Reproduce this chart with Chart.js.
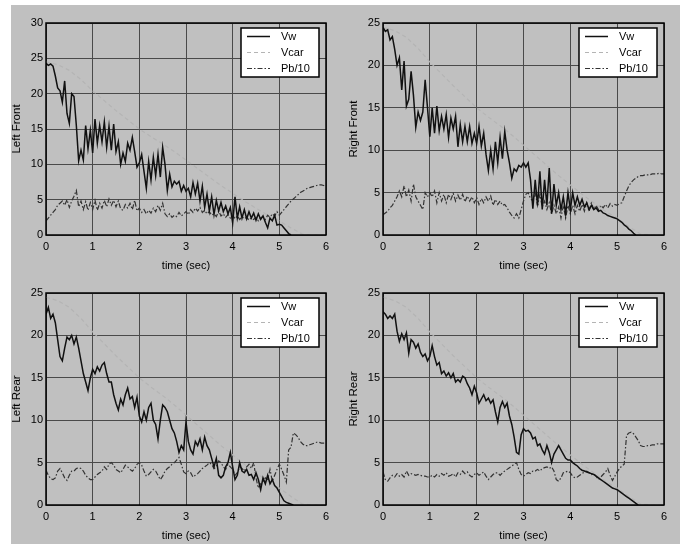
<!DOCTYPE html>
<html>
<head>
<meta charset="utf-8">
<script src="https://cdn.jsdelivr.net/npm/chart.js@4.4.0/dist/chart.umd.min.js"></script>
<style>
  body { margin: 0; background: #fff; overflow: hidden; width: 686px; height: 544px; position: relative; }
  #backdrop { position: absolute; left: 11px; top: 5px; width: 669px; height: 539px; background: #c0c0c0; }
  .panel { position: absolute; }
</style>
</head>
<body>
<div id="backdrop"></div>
<canvas class="panel" id="leftFront" width="343" height="275" style="left:0;top:0"></canvas>
<canvas class="panel" id="rightFront" width="343" height="275" style="left:343px;top:0"></canvas>
<canvas class="panel" id="leftRear" width="343" height="273" style="left:0;top:272px"></canvas>
<canvas class="panel" id="rightRear" width="343" height="273" style="left:343px;top:272px"></canvas>

<script>
// --- SAMPLE TIMES (sec) ---
const T = [0,0.05,0.1,0.15,0.2,0.25,0.3,0.35,0.4,0.45,0.5,0.55,0.6,0.65,0.7,0.75,0.8,0.85,0.9,0.95,
  1,1.05,1.1,1.15,1.2,1.25,1.3,1.35,1.4,1.45,1.5,1.55,1.6,1.65,1.7,1.75,1.8,1.85,1.9,1.95,
  2,2.05,2.1,2.15,2.2,2.25,2.3,2.35,2.4,2.45,2.5,2.55,2.6,2.65,2.7,2.75,2.8,2.85,2.9,2.95,
  3,3.05,3.1,3.15,3.2,3.25,3.3,3.35,3.4,3.45,3.5,3.55,3.6,3.65,3.7,3.75,3.8,3.85,3.9,3.95,
  4,4.05,4.1,4.15,4.2,4.25,4.3,4.35,4.4,4.45,4.5,4.55,4.6,4.65,4.7,4.75,4.8,4.85,4.9,4.95,
  5,5.05,5.1,5.15,5.2,5.25,5.3,5.35,5.4,5.45,5.5,5.55,5.6,5.65,5.7,5.75,5.8,5.85,5.9,5.95,6];
const T_CAR = [0,0.25,0.5,0.75,1,1.25,1.5,1.75,2,2.25,2.5,2.75,3,3.25,3.5,3.75,4,4.25,4.5,4.75,5,5.25,5.5,5.75,6];

const xTicks = [0, 1, 2, 3, 4, 5, 6];
const seriesNames = ["Vw", "Vcar", "Pb/10"];

// --- VEHICLE SPEED (same for every wheel) ---
const vCar = [24.5,24.1,23.3,22.0,20.4,19.0,17.6,16.3,15.0,13.9,12.9,11.8,10.6,9.4,8.2,7.0,5.9,4.8,3.8,2.8,2.0,1.0,0.1,0,0];

// --- LEFT FRONT ---
const vwLeftFront = [24.3,24.0,24.2,23.9,22.5,20.8,20.4,18.8,21.8,17.2,
  15.8,20.0,19.6,15.5,10.5,12.0,10.6,15.5,12.2,14.8,
  11.6,16.4,13.0,15.5,13.2,16.0,12.4,15.4,12.0,15.7,
  11.8,13.2,10.0,11.6,10.4,13.0,12.0,13.8,11.8,9.6,
  10.2,11.4,9.0,6.6,10.4,7.8,11.0,8.4,11.4,8.2,
  12.4,10.0,6.3,8.6,6.8,7.6,7.2,7.6,6.2,7.0,
  6.2,6.6,5.4,7.4,5.8,7.3,4.8,6.9,3.9,5.8,
  3.4,5.4,2.9,4.9,3.4,4.6,3.3,4.1,3.0,3.9,
  1.7,5.4,2.4,4.0,2.4,3.6,2.3,3.3,2.4,3.1,
  2.1,3.0,2.2,2.7,1.8,1.0,2.4,2.0,2.8,1.4,
  1.5,1.4,1.0,0.6,0.2,0];
const pbLeftFront = [2.0,2.4,2.8,3.2,3.6,4.2,4.5,4.8,4.2,5.0,
  3.9,4.8,5.5,6.3,4.0,4.8,3.6,4.7,3.5,4.6,
  3.6,4.9,3.5,4.5,3.8,4.9,4.0,5.1,4.2,4.9,
  4.0,4.8,3.7,3.5,4.3,3.8,4.5,3.6,4.9,3.4,
  3.8,3.2,3.6,3.0,3.5,3.1,3.8,3.3,4.2,3.5,
  4.5,3.0,2.6,3.0,2.5,2.8,2.6,3.2,2.7,3.0,
  3.3,2.9,3.6,3.2,3.8,3.4,3.9,3.2,3.5,3.0,
  3.3,2.8,3.0,2.6,3.4,2.7,3.0,2.5,2.9,2.4,
  2.8,2.3,2.7,2.2,2.6,2.3,2.5,2.1,2.4,2.2,
  2.5,2.0,2.4,2.6,2.2,2.8,2.5,3.0,2.7,3.3,
  2.8,3.2,3.6,4.0,4.4,4.8,5.1,5.4,5.7,6.0,
  6.2,6.4,6.6,6.7,6.8,6.9,7.0,7.1,7.1,7.0,
  6.9];

// --- RIGHT FRONT ---
const vwRightFront = [24.5,24.0,24.2,23.0,23.4,21.9,20.0,20.9,17.1,20.5,
  15.2,16.0,19.3,16.5,12.7,14.5,13.5,14.5,18.3,15.0,
  11.6,15.0,12.0,15.2,12.3,14.0,12.5,14.2,11.5,13.8,
  12.5,14.0,10.4,13.0,11.0,12.8,11.0,12.8,10.8,12.0,
  10.8,12.8,10.5,12.0,9.5,7.6,10.0,7.8,11.0,8.5,
  11.5,9.0,12.2,10.0,8.5,6.7,7.8,7.5,8.2,8.0,
  8.5,8.0,8.5,6.5,3.1,6.5,3.5,7.5,3.0,6.5,
  3.5,7.9,2.5,6.0,3.5,5.0,3.0,4.5,2.5,5.0,
  3.0,5.0,3.5,4.5,3.5,4.2,3.3,3.8,3.0,3.5,
  3.0,3.2,2.8,2.9,2.6,2.5,2.3,2.2,2.1,2.0,
  1.9,1.7,1.5,1.2,1.0,0.7,0.5,0.2,0];
const pbRightFront = [2.4,2.6,2.8,3.2,3.5,4.0,4.5,5.2,4.5,5.8,
  4.5,5.3,4.0,6.0,4.5,4.0,3.5,3.0,5.0,4.5,
  5.0,4.5,5.2,3.8,5.0,4.0,4.8,3.8,4.8,4.2,
  4.9,4.0,4.7,4.1,4.8,3.9,4.6,4.0,4.5,3.8,
  4.4,3.6,4.3,3.8,4.5,4.0,4.6,3.5,4.2,3.6,
  4.0,3.5,3.6,3.2,2.7,2.3,2.0,2.5,2.0,3.0,
  4.0,4.8,5.0,4.3,4.0,5.0,3.5,4.8,3.3,4.0,
  3.0,3.8,2.5,3.5,2.5,3.3,2.0,3.5,2.0,3.5,
  2.5,3.5,2.5,3.5,2.8,3.6,2.8,3.8,2.8,3.8,
  3.0,3.5,3.0,3.5,3.2,3.6,3.2,3.7,3.4,3.6,
  3.5,3.7,3.8,4.5,5.2,5.8,6.2,6.5,6.7,6.9,
  7.0,7.0,7.1,7.1,7.1,7.2,7.2,7.2,7.3,7.2,
  7.2];

// --- LEFT REAR ---
const vwLeftRear = [22.5,23.3,22.0,22.5,21.5,19.5,17.5,17.0,18.5,19.8,
  19.5,20.0,19.0,19.8,18.5,17.0,15.5,14.5,13.5,15.0,
  16.0,15.5,16.3,15.8,16.5,16.8,15.5,14.5,14.5,13.0,
  12.0,11.2,12.5,11.8,13.0,13.8,12.5,12.8,11.5,12.7,
  10.5,9.8,11.0,10.0,11.5,12.0,10.0,9.5,7.8,10.0,
  11.8,11.5,11.0,10.0,9.0,8.5,7.5,6.2,7.0,6.5,
  9.8,7.5,6.5,6.0,7.5,7.0,7.8,6.5,8.0,7.0,
  6.5,5.5,4.5,5.5,3.5,3.2,3.5,4.5,5.0,6.2,
  4.5,3.0,3.5,5.0,4.0,3.8,4.2,3.5,3.6,3.0,
  3.8,3.0,1.8,3.2,2.5,3.5,2.5,3.0,2.3,2.0,
  1.5,1.0,0.5,0.3,0.2,0.1,0];
const pbLeftRear = [4.1,3.5,3.1,3.0,3.2,4.0,4.3,3.8,3.2,2.9,
  3.5,4.0,4.0,4.3,4.4,4.3,4.0,3.5,3.2,3.0,
  3.0,3.3,3.6,3.8,4.0,4.5,4.2,4.8,5.0,4.7,
  4.2,4.0,3.8,4.2,4.7,4.5,4.2,4.0,4.3,4.8,
  5.0,4.7,4.0,3.4,3.6,3.9,4.2,4.0,3.5,3.0,
  3.4,4.0,4.3,4.5,4.8,5.0,5.3,5.6,4.8,3.9,
  3.7,4.0,3.8,3.3,3.5,3.7,4.0,4.3,4.5,4.7,
  5.0,4.8,4.3,4.5,5.2,5.0,4.5,4.2,4.8,4.5,
  4.2,3.5,3.8,4.5,4.3,4.0,4.5,4.8,4.3,5.0,
  3.2,2.0,2.5,2.8,3.2,3.0,4.2,2.8,3.5,4.2,
  4.8,4.2,3.5,2.7,6.5,6.8,8.5,8.3,8.0,7.5,
  7.2,7.0,7.0,7.1,7.2,7.3,7.4,7.4,7.3,7.3,
  7.3];

// --- RIGHT REAR ---
const vwRightRear = [22.8,22.5,22.0,22.3,22.0,22.5,20.5,19.3,20.2,19.5,
  20.3,17.9,19.5,19.2,18.5,19.0,18.0,17.5,17.8,17.0,
  17.5,18.8,17.5,16.5,16.8,15.5,15.8,15.2,15.6,15.0,
  15.5,14.5,14.8,14.5,15.2,15.0,14.3,13.8,13.0,14.0,
  13.2,12.0,12.5,13.0,12.3,12.6,12.0,12.4,11.0,9.8,
  11.5,12.2,11.5,12.0,10.5,9.5,8.0,6.2,6.0,8.3,
  9.0,8.7,8.8,8.5,7.8,8.0,7.0,7.2,6.5,6.0,
  7.0,6.2,5.0,6.0,6.5,7.0,6.5,6.0,5.5,5.3,
  5.3,5.0,4.8,4.6,4.3,4.1,4.0,3.9,3.8,3.7,
  3.6,3.4,3.2,3.0,2.8,2.6,2.4,2.2,2.0,1.9,
  1.8,1.6,1.4,1.2,1.0,0.8,0.6,0.4,0.2,0];
const pbRightRear = [3.9,3.0,2.8,3.2,3.5,3.3,3.7,3.4,3.6,3.3,
  4.0,3.5,3.7,3.6,3.5,3.6,3.5,3.4,3.4,3.3,
  3.3,3.5,3.3,3.6,3.4,3.7,3.5,3.8,3.4,3.5,
  3.7,3.3,3.8,3.6,4.0,3.7,3.9,3.5,3.3,3.6,
  3.8,3.5,3.7,3.9,3.4,3.0,3.3,3.6,3.8,3.8,
  3.5,3.8,4.0,4.2,4.4,4.6,4.8,5.0,4.2,3.6,
  3.4,3.6,3.8,3.7,4.0,4.0,4.2,4.0,4.3,4.4,
  4.5,4.3,4.5,4.0,3.0,2.8,3.2,3.8,3.9,4.0,
  3.8,3.4,3.2,3.3,3.5,3.7,3.9,4.0,3.8,3.6,
  3.7,3.4,3.0,3.3,3.6,3.9,4.3,3.5,2.9,3.4,
  3.9,4.3,4.6,4.8,8.2,8.5,8.6,8.4,8.0,7.6,
  7.0,6.9,6.9,7.0,7.0,7.1,7.1,7.2,7.2,7.2,
  7.2];

const FONT = "'Liberation Sans', Arial, Helvetica, sans-serif";

function toPoints(times, values) {
  return values.map((v, i) => ({ x: times[i], y: v }));
}

// MATLAB style legend box tucked into the upper right corner
const legendBoxPlugin = {
  id: "legendBox",
  afterDraw(chart) {
    const { ctx, chartArea } = chart;
    const w = 78, h = 49;
    const x = chartArea.right - 7 - w;
    const y = chartArea.top + 5;
    ctx.save();
    ctx.fillStyle = "#fff";
    ctx.fillRect(x, y, w, h);
    ctx.strokeStyle = "#000";
    ctx.lineWidth = 1.5;
    ctx.strokeRect(x, y, w, h);
    chart.data.datasets.forEach((ds, i) => {
      const ly = y + 8.5 + i * 16;
      ctx.beginPath();
      ctx.setLineDash(ds.borderDash || []);
      ctx.strokeStyle = ds.borderColor;
      ctx.lineWidth = ds.borderWidth;
      ctx.moveTo(x + 6, ly);
      ctx.lineTo(x + 29, ly);
      ctx.stroke();
      ctx.setLineDash([]);
      ctx.fillStyle = "#000";
      ctx.font = `11px ${FONT}`;
      ctx.textBaseline = "middle";
      ctx.fillText(ds.label, x + 40, ly);
    });
    ctx.restore();
  },
};

// box around the axes, drawn on top like MATLAB does
const axesBoxPlugin = {
  id: "axesBox",
  afterDatasetsDraw(chart) {
    const { ctx, chartArea } = chart;
    ctx.save();
    ctx.strokeStyle = "#000";
    ctx.lineWidth = 1.5;
    ctx.strokeRect(chartArea.left, chartArea.top, chartArea.right - chartArea.left, chartArea.bottom - chartArea.top);
    ctx.restore();
  },
};

function makePanel(canvasId, yTitle, yMax, vw, pb, pad) {
  new Chart(document.getElementById(canvasId), {
    type: "line",
    data: {
      datasets: [
        { label: seriesNames[0], data: toPoints(T, vw), borderColor: "#111", borderWidth: 1.5 },
        { label: seriesNames[1], data: toPoints(T_CAR, vCar), borderColor: "#b4b4b4", borderWidth: 1.2, borderDash: [4, 3] },
        { label: seriesNames[2], data: toPoints(T, pb), borderColor: "#333", borderWidth: 1.2, borderDash: [5, 2, 1.5, 2] },
      ],
    },
    options: {
      responsive: false,
      animation: false,
      layout: { padding: pad },
      elements: { point: { radius: 0 }, line: { tension: 0 } },
      plugins: { legend: { display: false }, tooltip: { enabled: false } },
      scales: {
        x: {
          type: "linear",
          min: 0,
          max: 6,
          afterBuildTicks: (scale) => { scale.ticks = xTicks.map((v) => ({ value: v })); },
          afterFit: (scale) => { scale.height = 40; },
          grid: { color: "#4a4a4a", lineWidth: 1, drawTicks: false },
          border: { display: false },
          ticks: { color: "#000", padding: 5, maxRotation: 0, font: { size: 11, family: FONT } },
          title: { display: true, text: "time (sec)", color: "#000", padding: { top: 0, bottom: 2 }, font: { size: 11, family: FONT } },
        },
        y: {
          min: 0,
          max: yMax,
          ticks: { stepSize: 5, color: "#000", padding: 3, font: { size: 11, family: FONT } },
          afterFit: (scale) => { scale.width = 38; },
          grid: { color: "#4a4a4a", lineWidth: 1, drawTicks: false },
          border: { display: false },
          title: { display: true, text: yTitle, color: "#000", padding: { top: 2, bottom: 0 }, font: { size: 11.5, family: FONT } },
        },
      },
    },
    plugins: [axesBoxPlugin, legendBoxPlugin],
  });
}

document.addEventListener("DOMContentLoaded", () => {
  makePanel("leftFront", "Left Front", 30, vwLeftFront, pbLeftFront, { left: 8, right: 17, top: 23, bottom: 0 });
  makePanel("rightFront", "Right Front", 25, vwRightFront, pbRightFront, { left: 2, right: 22, top: 23, bottom: 0 });
  makePanel("leftRear", "Left Rear", 25, vwLeftRear, pbLeftRear, { left: 8, right: 17, top: 21, bottom: 0 });
  makePanel("rightRear", "Right Rear", 25, vwRightRear, pbRightRear, { left: 2, right: 22, top: 21, bottom: 0 });
});
</script>
</body>
</html>
